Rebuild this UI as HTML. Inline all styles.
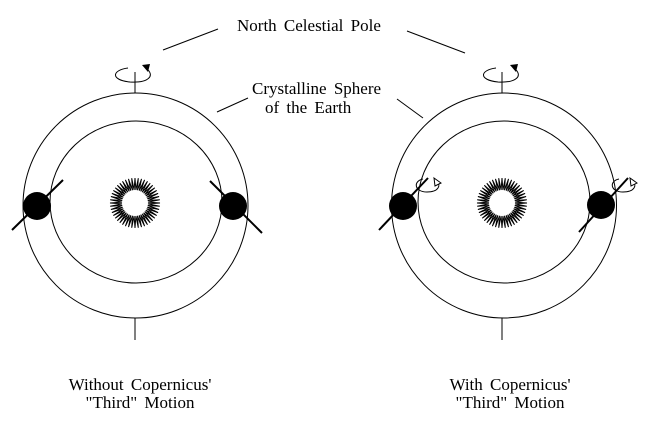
<!DOCTYPE html>
<html><head><style>
html,body{margin:0;padding:0;background:#fff;}
svg{display:block}
text{font-family:"Liberation Serif",serif;font-size:17px;fill:#000;word-spacing:3px}
</style></head><body>
<svg width="652" height="439" viewBox="0 0 652 439" xmlns="http://www.w3.org/2000/svg">
<g fill="none" stroke="#000" stroke-width="1">
<circle cx="135.5" cy="205.5" r="112.5"/>
<ellipse cx="136" cy="202" rx="86" ry="81"/>
<line x1="135" y1="72" x2="135" y2="93"/>
<line x1="135" y1="318" x2="135" y2="340"/>
<path d="M128,68 C112,70 110,80 130,82 C148,83 156,76 146,68"/>
<circle cx="504" cy="205.5" r="112.5"/>
<ellipse cx="504" cy="202" rx="86" ry="81"/>
<line x1="502" y1="72" x2="502" y2="93"/>
<line x1="502" y1="318" x2="502" y2="340"/>
<path d="M496,68 C480,70 478,80 498,82 C516,83 524,76 514,68"/>
<line x1="163" y1="50" x2="218" y2="29"/>
<line x1="407" y1="31" x2="465" y2="53"/>
<line x1="217" y1="112" x2="248" y2="98"/>
<line x1="397" y1="99" x2="423" y2="118"/>
<path d="M423,179 C413,181 414,192 427,192 C439,192 441,185 437,181"/>
<path d="M619,179 C609,181 610,192 623,192 C635,192 637,185 633,181"/>
</g>
<g fill="#000">
<polygon points="142,65 148,72 150,64"/>
<polygon points="510,65 516,72 518,64"/>
</g>
<g fill="#fff" stroke="#000">
<polygon points="434,178 441,183 435,186"/>
<polygon points="630,178 637,183 631,186"/>
</g>
<g stroke="#000" stroke-width="2">
<line x1="12" y1="230" x2="63" y2="180"/>
<line x1="210" y1="181" x2="262" y2="233"/>
<line x1="379" y1="230" x2="428" y2="178"/>
<line x1="579" y1="232" x2="628" y2="178"/>
</g>
<g fill="#000">
<circle cx="37" cy="206" r="14"/>
<circle cx="233" cy="206" r="14"/>
<circle cx="403" cy="206" r="14"/>
<circle cx="601" cy="205" r="14"/>
</g>
<g id="suns"></g>
<text x="237" y="31">North Celestial Pole</text>
<text x="252" y="94">Crystalline Sphere</text>
<text x="265" y="113">of the Earth</text>
<text x="140" y="390" text-anchor="middle">Without Copernicus'</text>
<text x="140" y="408" text-anchor="middle">"Third" Motion</text>
<text x="510" y="390" text-anchor="middle">With Copernicus'</text>
<text x="510" y="408" text-anchor="middle">"Third" Motion</text>
</svg>
<script>
var g=document.getElementById('suns');
[[135,203],[502,203]].forEach(function(c){
 var n=48,pts=[];
 for(var i=0;i<n*2;i++){var a=Math.PI*i/n;var r=(i%2==0)?25:13;pts.push((c[0]+r*Math.cos(a)).toFixed(1)+','+(c[1]+r*Math.sin(a)).toFixed(1));}
 var p=document.createElementNS('http://www.w3.org/2000/svg','polygon');
 p.setAttribute('points',pts.join(' '));p.setAttribute('fill','#fff');p.setAttribute('stroke','#000');p.setAttribute('stroke-width','1');g.appendChild(p);
});
</script>
</body></html>
